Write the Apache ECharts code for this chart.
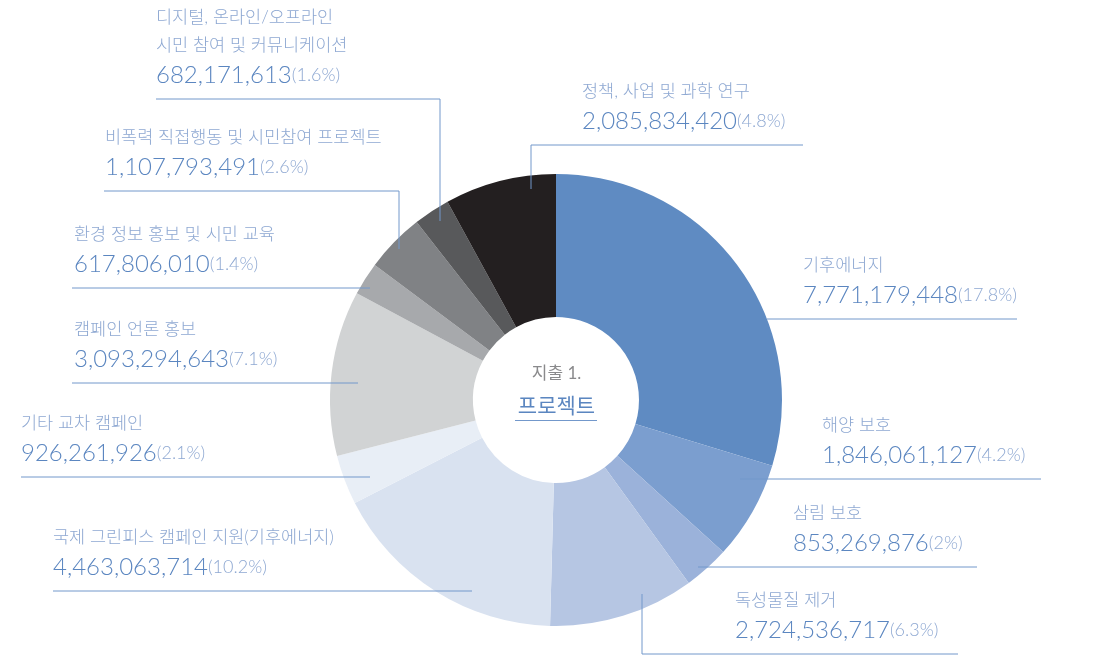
<!DOCTYPE html>
<html>
<head>
<meta charset="utf-8">
<script src="https://cdn.jsdelivr.net/npm/echarts@6/dist/echarts.min.js"></script>
<style>
html,body{margin:0;padding:0;background:#fff;}
#chart{width:1113px;height:656px;}
</style>
</head>
<body>
<div id="chart"></div>
<script>
// ---- data ----
const categories = [
  '기후에너지',
  '해양 보호',
  '삼림 보호',
  '독성물질 제거',
  '국제 그린피스 캠페인 지원(기후에너지)',
  '기타 교차 캠페인',
  '캠페인 언론 홍보',
  '환경 정보 홍보 및 시민 교육',
  '비폭력 직접행동 및 시민참여 프로젝트',
  '디지털, 온라인/오프라인\n시민 참여 및 커뮤니케이션',
  '정책, 사업 및 과학 연구'
];
const values = [
  7771179448, 1846061127, 853269876, 2724536717, 4463063714,
  926261926, 3093294643, 617806010, 1107793491, 682171613, 2085834420
];
const percentLabels = [
  '17.8%', '4.2%', '2%', '6.3%', '10.2%', '2.1%', '7.1%', '1.4%', '2.6%', '1.6%', '4.8%'
];
const centerTitle = '지출 1.';
const centerSubtitle = '프로젝트';

// ---- styles / layout (kept separate from data) ----
const sliceColors = ['#5F8BC2','#7B9ECF','#9BB2DA','#B6C6E3','#D9E2F0','#E8EEF6',
                     '#D1D3D4','#A7A9AC','#808285','#58595B','#231F20'];
const labelLayoutCfg = [
  {x: 803, u: 319, line: [[767,319],[767,319],[1017,319]]},
  {x: 822, u: 479, line: [[740,479],[740,479],[1041,479]]},
  {x: 793, u: 567, line: [[698,567],[698,567],[977,567]]},
  {x: 735, u: 654, line: [[642,594],[642,654],[958,654]]},
  {x: 53,  u: 591, line: [[472,591],[472,591],[53,591]]},
  {x: 21,  u: 477, line: [[370,477],[370,477],[21,477]]},
  {x: 74,  u: 383, line: [[358,383],[358,383],[72,383]]},
  {x: 74,  u: 288, line: [[370,288],[370,288],[72,288]]},
  {x: 105, u: 191, line: [[399,249],[399,191],[104,191]]},
  {x: 156, u: 99,  line: [[440,221],[440,99],[156,99]]},
  {x: 582, u: 145, line: [[531,189],[531,145],[803,145]]}
];

const FONT = 'Lato, "Noto Sans CJK KR", sans-serif';
const chart = echarts.init(document.getElementById('chart'), null, {renderer: 'canvas'});

const pieData = categories.map((c, i) => ({
  name: c, value: values[i], itemStyle: {color: sliceColors[i]}
}));
const labelData = categories.map((c, i) => ({
  name: c, value: values[i], itemStyle: {color: 'rgba(0,0,0,0)'}
}));

const pieGeom = {
  type: 'pie',
  center: [556, 400],
  radius: [83, 226],
  startAngle: 90,
  clockwise: true,
  avoidLabelOverlap: false,
  silent: true,
  emphasis: {disabled: true}
};

chart.setOption({
  animation: false,
  backgroundColor: '#ffffff',
  series: [
    Object.assign({}, pieGeom, {
      z: 2,
      data: pieData,
      label: {show: false},
      labelLine: {show: false}
    }),
    Object.assign({}, pieGeom, {
      z: 5,
      data: labelData,
      label: {
        show: true,
        position: 'outside',
        fontFamily: FONT,
        formatter: function (p) {
          const names = p.name.split('\n').map(s => '{n|' + s + '}').join('\n');
          return names + '\n{v|' + values[p.dataIndex].toLocaleString('en-US') + '}{p|(' + percentLabels[p.dataIndex] + ')}';
        },
        rich: {
          n: {fontFamily: FONT, fontSize: 17.5, color: '#8EA8D2', lineHeight: 28, fontWeight: 300},
          v: {fontFamily: FONT, fontSize: 24, color: '#5B86C0', lineHeight: 32, fontWeight: 300},
          p: {fontFamily: FONT, fontSize: 18, color: '#8EA8D2', lineHeight: 32, fontWeight: 300}
        }
      },
      labelLine: {
        show: true, length: 10, length2: 10, smooth: false,
        lineStyle: {color: '#7398CB', width: 1}
      },
      labelLayout: function (params) {
        const L = labelLayoutCfg[params.dataIndex];
        return {
          x: L.x, y: L.u - 8, align: 'left', verticalAlign: 'bottom',
          labelLinePoints: L.line
        };
      }
    })
  ],
  graphic: [
    {type: 'text', left: 'center', top: 365, style: {text: centerTitle, fontFamily: FONT, fontSize: 17, fill: '#8A8A8C'}},
    {type: 'text', left: 'center', top: 396, style: {text: centerSubtitle, fontFamily: FONT, fontSize: 21, fill: '#5B86C0'}},
    {type: 'line', shape: {x1: 515, y1: 420.5, x2: 597, y2: 420.5}, style: {stroke: '#7398CB', lineWidth: 1}}
  ]
});
</script>
</body>
</html>
